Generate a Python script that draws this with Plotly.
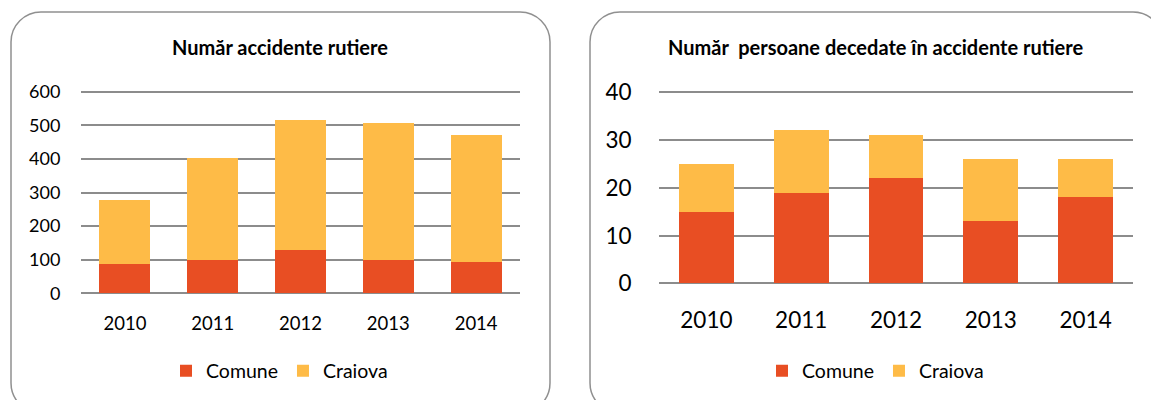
import plotly.graph_objects as go

# ---- data ----
years = ["2010", "2011", "2012", "2013", "2014"]

accidents_comune = [87, 99, 129, 99, 94]
accidents_craiova = [191, 304, 386, 408, 377]

deaths_comune = [15, 19, 22, 13, 18]
deaths_craiova = [10, 13, 9, 13, 8]

accidents_ticks = [0, 100, 200, 300, 400, 500, 600]
deaths_ticks = [0, 10, 20, 30, 40]

title_left = "Număr accidente rutiere"
title_right = "Număr\u00a0 persoane decedate în accidente rutiere"

# ---- styling ----
W, H = 1151, 400
FONT = "Lato, 'Open Sans', sans-serif"
C_COMUNE = "#E84E23"
C_CRAIOVA = "#FEBB47"
GRID = "#8C8C8C"
BORDER = "#909090"


def px(x):
    return x / W


def py(y):
    return 1 - y / H


def rounded_box(x0, y0, x1, y1, r):
    k = 0.5523 * r
    pts = []
    pts.append(f"M {px(x0 + r)},{py(y0)}")
    pts.append(f"L {px(x1 - r)},{py(y0)}")
    pts.append(f"C {px(x1 - r + k)},{py(y0)} {px(x1)},{py(y0 + r - k)} {px(x1)},{py(y0 + r)}")
    pts.append(f"L {px(x1)},{py(y1 - r)}")
    pts.append(f"C {px(x1)},{py(y1 - r + k)} {px(x1 - r + k)},{py(y1)} {px(x1 - r)},{py(y1)}")
    pts.append(f"L {px(x0 + r)},{py(y1)}")
    pts.append(f"C {px(x0 + r - k)},{py(y1)} {px(x0)},{py(y1 - r + k)} {px(x0)},{py(y1 - r)}")
    pts.append(f"L {px(x0)},{py(y0 + r)}")
    pts.append(f"C {px(x0)},{py(y0 + r - k)} {px(x0 + r - k)},{py(y0)} {px(x0 + r)},{py(y0)}")
    pts.append("Z")
    return " ".join(pts)


fig = go.Figure()

# left chart: accidents
fig.add_trace(go.Bar(x=years, y=accidents_comune, name="Comune", marker_color=C_COMUNE,
                     xaxis="x", yaxis="y", legend="legend"))
fig.add_trace(go.Bar(x=years, y=accidents_craiova, name="Craiova", marker_color=C_CRAIOVA,
                     xaxis="x", yaxis="y", legend="legend"))

# right chart: deaths
fig.add_trace(go.Bar(x=years, y=deaths_comune, name="Comune", marker_color=C_COMUNE,
                     xaxis="x2", yaxis="y2", legend="legend2"))
fig.add_trace(go.Bar(x=years, y=deaths_craiova, name="Craiova", marker_color=C_CRAIOVA,
                     xaxis="x2", yaxis="y2", legend="legend2"))

fig.update_traces(marker_line_width=0, hoverinfo="skip")

common_x = dict(showgrid=False, zeroline=False, showline=False, ticks="outside",
                tickcolor="rgba(0,0,0,0)", fixedrange=True, automargin=False)
common_y = dict(showgrid=True, gridcolor=GRID, gridwidth=1.5, zeroline=True,
                zerolinecolor=GRID, zerolinewidth=1.5, showline=False, ticks="outside",
                tickcolor="rgba(0,0,0,0)", fixedrange=True, automargin=False)

# value axes get a little headroom so the top gridline stays inside the plot area
# left: 0 at y=293.3px, 600 at y=91.7px
L_TOP, L_MAX = 606, 600
left_bottom = 293.3
left_top = left_bottom - (left_bottom - 91.7) * L_TOP / L_MAX
# right: 0 at y=283.5px, 40 at y=92px
R_TOP, R_MAX = 40.5, 40
right_bottom = 283.5
right_top = right_bottom - (right_bottom - 92) * R_TOP / R_MAX

fig.update_layout(
    width=W, height=H,
    margin=dict(l=0, r=0, t=0, b=0, autoexpand=False),
    paper_bgcolor="white", plot_bgcolor="white",
    font=dict(family=FONT, color="#000000"),
    barmode="stack",
    bargap=0.42,
    xaxis=dict(domain=[px(81), px(520)], anchor="y", ticklen=13,
               tickfont=dict(size=18.5), **common_x),
    yaxis=dict(domain=[py(left_bottom), py(left_top)], anchor="x", range=[0, L_TOP],
               tickvals=accidents_ticks, ticklen=16, tickfont=dict(size=18), **common_y),
    xaxis2=dict(domain=[px(659), px(1133)], anchor="y2", ticklen=16,
                tickfont=dict(size=22.5), **common_x),
    yaxis2=dict(domain=[py(right_bottom), py(right_top)], anchor="x2", range=[0, R_TOP],
                tickvals=deaths_ticks, ticklen=22, tickfont=dict(size=22.5), **common_y),
    legend=dict(orientation="h", x=px(279.5), y=py(371), xanchor="center", yanchor="middle",
                font=dict(size=19.5), traceorder="normal", bgcolor="rgba(0,0,0,0)"),
    legend2=dict(orientation="h", x=px(875.5), y=py(371), xanchor="center", yanchor="middle",
                 font=dict(size=19.5), traceorder="normal", bgcolor="rgba(0,0,0,0)"),
    annotations=[
        dict(text=f"<b>{title_left}</b>", x=px(280), y=py(47), xref="paper", yref="paper",
             xanchor="center", yanchor="middle", showarrow=False, font=dict(size=20)),
        dict(text=f"<b>{title_right}</b>", x=px(875), y=py(47), xref="paper", yref="paper",
             xanchor="center", yanchor="middle", showarrow=False, font=dict(size=20)),
    ],
    shapes=[
        dict(type="path", xref="paper", yref="paper", path=rounded_box(11, 12, 550, 413, 30),
             line=dict(color=BORDER, width=1.5), layer="below"),
        dict(type="path", xref="paper", yref="paper", path=rounded_box(590, 12, 1163, 413, 30),
             line=dict(color=BORDER, width=1.5), layer="below"),
    ],
)

fig.write_html("out.html", config={"displayModeBar": False})
